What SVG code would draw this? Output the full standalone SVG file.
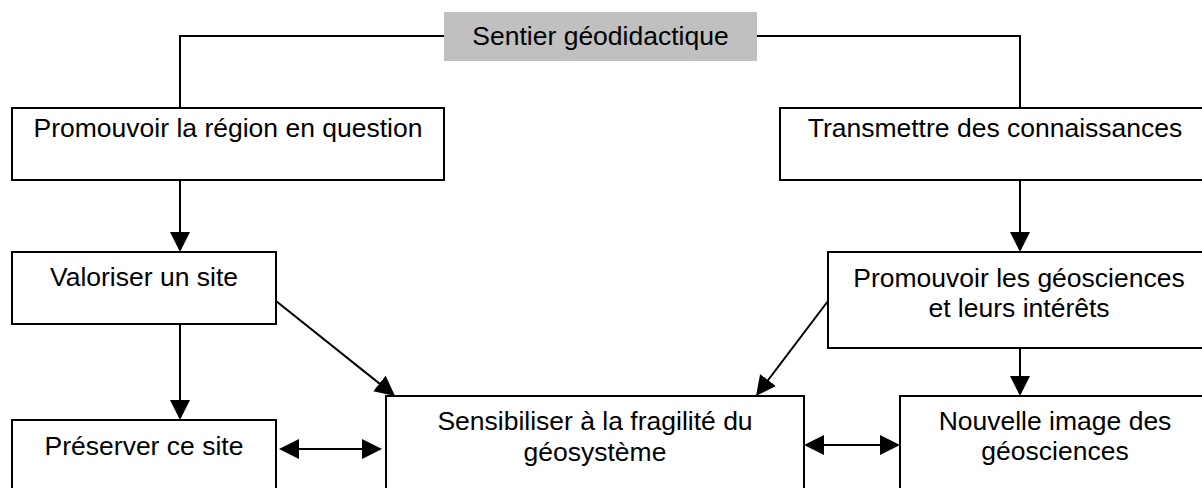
<svg xmlns="http://www.w3.org/2000/svg" width="1202" height="488" viewBox="0 0 1202 488">
<style>
.box{fill:#fff;stroke:#000;stroke-width:2}
.t{font-family:"Liberation Sans",Arial,sans-serif;font-size:26.5px;fill:#000;text-anchor:middle}
.c{fill:none;stroke:#000;stroke-width:2}
.a{marker-end:url(#ah)}
.d{marker-start:url(#ah);marker-end:url(#ah)}
</style>
<defs>
<marker id="ah" markerUnits="userSpaceOnUse" markerWidth="20" markerHeight="20" refX="17" refY="10" orient="auto-start-reverse" viewBox="0 0 20 20">
<path d="M0,0 L20,10 L0,20 z" fill="#000"/>
</marker>
</defs>
<rect width="1202" height="488" fill="#fff"/>
<g id="connectors">
<polyline class="c" points="444,36 180,36 180,108"/>
<polyline class="c" points="757,36 1020,36 1020,108"/>
<line class="c a" x1="180" y1="180" x2="180" y2="249"/>
<line class="c a" x1="1020" y1="180" x2="1020" y2="249"/>
<line class="c a" x1="180" y1="324" x2="180" y2="417"/>
<line class="c a" x1="1020" y1="348" x2="1020" y2="393"/>
<line class="c a" x1="276" y1="301" x2="392.7" y2="394.1"/>
<line class="c a" x1="828" y1="301" x2="757.8" y2="393.6"/>
<line class="c d" x1="282" y1="449" x2="379" y2="449"/>
<line class="c d" x1="807" y1="445" x2="897" y2="445"/>
</g>
<g id="title">
<rect x="444" y="12" width="313" height="49" fill="#c0c0c0"/>
<text class="t" x="600.5" y="44.5">Sentier géodidactique</text>
</g>
<g id="promouvoir-region">
<rect class="box" x="12" y="108" width="432" height="72"/>
<text class="t" x="228" y="137">Promouvoir la région en question</text>
</g>
<g id="transmettre">
<rect class="box" x="780" y="108" width="430" height="72"/>
<text class="t" x="995" y="137">Transmettre des connaissances</text>
</g>
<g id="valoriser">
<rect class="box" x="12" y="252" width="264" height="72"/>
<text class="t" x="144" y="286">Valoriser un site</text>
</g>
<g id="promouvoir-geosciences">
<rect class="box" x="828" y="252" width="382" height="96"/>
<text class="t" x="1019" y="287">Promouvoir les géosciences</text>
<text class="t" x="1019" y="317">et leurs intérêts</text>
</g>
<g id="preserver">
<rect class="box" x="12" y="420" width="264" height="80"/>
<text class="t" x="144" y="455">Préserver ce site</text>
</g>
<g id="sensibiliser">
<rect class="box" x="386" y="396" width="418" height="104"/>
<text class="t" x="595" y="430">Sensibiliser à la fragilité du</text>
<text class="t" x="595" y="461">géosystème</text>
</g>
<g id="nouvelle-image">
<rect class="box" x="900" y="396" width="310" height="104"/>
<text class="t" x="1055" y="430">Nouvelle image des</text>
<text class="t" x="1055" y="460">géosciences</text>
</g>
</svg>
